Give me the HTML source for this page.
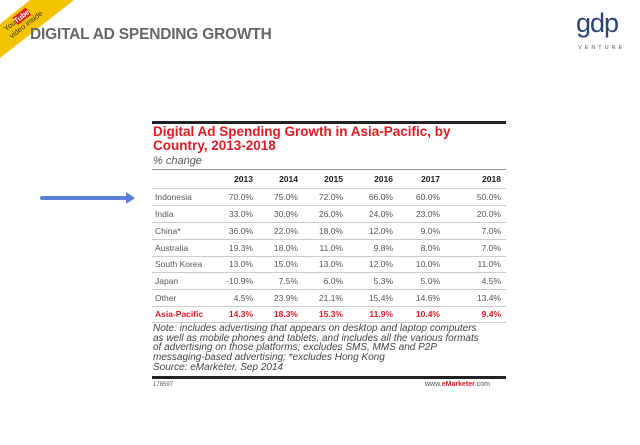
<!DOCTYPE html>
<html><head><style>
body{margin:0;width:640px;height:445px;background:#fff;position:relative;overflow:hidden;font-family:"Liberation Sans",sans-serif}
.a{position:absolute}
.t{position:absolute;font-size:8.5px;color:#555;white-space:nowrap}
.r{text-align:right;width:50px}
.ln{position:absolute;left:152px;width:354px;height:1px;background:#ccc}
.b{font-weight:bold;color:#222}
.red{color:#e01b24;font-weight:bold}
</style></head><body>
<svg class="a" style="left:0;top:0" width="80" height="60"><polygon points="30,0 74,0 0,58 0,24" fill="#f5c400"/></svg>
<div class="a" style="left:2px;top:26px;font-size:7.5px;color:#333;transform:rotate(-38deg);transform-origin:0 0;line-height:9px;white-space:nowrap">You<span style="background:#d22;color:#fff;font-weight:bold">Tube</span><br>video inside</div>
<div class="a" style="left:30px;top:26px;font-size:15.5px;font-weight:bold;color:#666;letter-spacing:-0.2px">DIGITAL AD SPENDING GROWTH</div>
<div class="a" style="left:576px;top:8px;font-size:27px;color:#2a4478;letter-spacing:-1px">gdp</div>
<div class="a" style="left:578px;top:45px;font-size:5.5px;color:#555;letter-spacing:3px">VENTURE</div>
<div class="a" style="left:40px;top:196px;width:88px;height:4px;background:#5b7fd8;border-radius:2px"></div>
<div class="a" style="left:126px;top:192px;width:0;height:0;border-left:9px solid #5b7fd8;border-top:6px solid transparent;border-bottom:6px solid transparent"></div>
<div class="a" style="left:152px;top:121px;width:354px;height:3px;background:#222"></div>
<div class="a red" style="left:153px;top:125px;font-size:13.5px;line-height:14px;white-space:nowrap">Digital Ad Spending Growth in Asia-Pacific, by<br>Country, 2013-2018</div>
<div class="t" style="left:153px;top:155px;font-style:italic;font-size:11px">% change</div>
<div class="ln" style="top:169px;background:#999"></div>
<div class="ln" style="top:188px"></div>
<div id="g"></div>
<div class="ln" style="top:205px"></div><div class="ln" style="top:222px"></div><div class="ln" style="top:239px"></div><div class="ln" style="top:256px"></div><div class="ln" style="top:272px"></div><div class="ln" style="top:289px"></div><div class="ln" style="top:306px"></div><div class="ln" style="top:322px"></div>
<div class="t" style="left:153px;top:324px;font-style:italic;font-size:10px;line-height:9.7px;color:#444">Note: includes advertising that appears on desktop and laptop computers<br>as well as mobile phones and tablets, and includes all the various formats<br>of advertising on those platforms; excludes SMS, MMS and P2P<br>messaging-based advertising; *excludes Hong Kong<br>Source: eMarketer, Sep 2014</div>
<div class="a" style="left:152px;top:376px;width:354px;height:3px;background:#222"></div>
<div class="t" style="left:153px;top:382px;font-size:6px">178597</div>
<div class="t" style="left:425px;top:381px;font-size:7px">www.<b style="color:#e01b24">eMarketer</b>.com</div>
<script>
var rows=[["","2013","2014","2015","2016","2017","2018"],
["Indonesia","70.0%","75.0%","72.0%","66.0%","60.0%","50.0%"],
["India","33.0%","30.0%","26.0%","24.0%","23.0%","20.0%"],
["China*","36.0%","22.0%","18.0%","12.0%","9.0%","7.0%"],
["Australia","19.3%","18.0%","11.0%","9.8%","8.0%","7.0%"],
["South Korea","13.0%","15.0%","13.0%","12.0%","10.0%","11.0%"],
["Japan","-10.9%","7.5%","6.0%","5.3%","5.0%","4.5%"],
["Other","4.5%","23.9%","21.1%","15.4%","14.6%","13.4%"],
["Asia-Pacific","14.3%","18.3%","15.3%","11.9%","10.4%","9.4%"]];
var xs=[253,298,343,393,440,501],ys=[174,192,209,226,243,259,276,293,309],h="";
rows.forEach(function(r,i){var c=i==0?" b":(i==8?" red":"");
h+='<div class="t'+c+'" style="left:155px;top:'+ys[i]+'px">'+r[0]+'</div>';
for(var j=1;j<7;j++)h+='<div class="t r'+c+'" style="left:'+(xs[j-1]-50)+'px;top:'+ys[i]+'px">'+r[j]+'</div>';});
document.getElementById("g").innerHTML=h;
</script>
</body></html>
